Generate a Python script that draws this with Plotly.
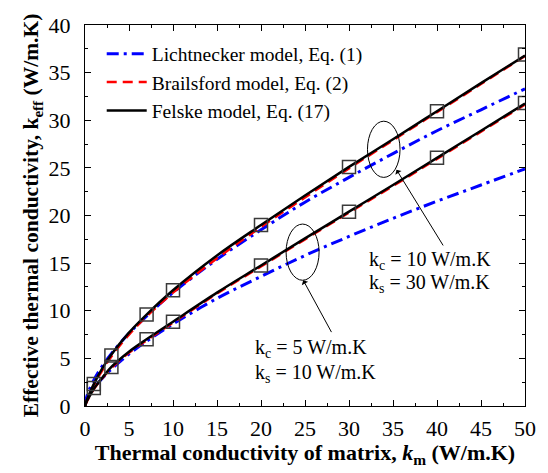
import plotly.graph_objects as go

# ---- data ----
km = [0, 0.2, 0.5, 1, 2, 3, 5, 7, 10, 15, 20, 25, 30, 35, 40, 45, 50]

# upper set: kc = 10 W/m.K, ks = 30 W/m.K
lich_hi = [0, 0.97, 1.74, 2.72, 4.25, 5.5, 7.63, 9.44, 11.9, 15.4, 18.5, 21.4, 24.0, 26.5, 28.9, 31.1, 33.3]
brai_hi = [0, 0.55, 1.2, 2.2, 3.8, 5.2, 7.5, 9.4, 11.9, 15.5, 18.8, 21.9, 24.95, 27.9, 30.85, 33.8, 36.75]
fels_hi = [0, 0.6, 1.3, 2.3, 4.0, 5.4, 7.7, 9.6, 12.15, 15.8, 19.0, 22.1, 25.1, 28.0, 30.95, 33.9, 36.8]

# lower set: kc = 5 W/m.K, ks = 10 W/m.K
lich_lo = [0, 0.65, 1.19, 1.88, 2.95, 3.87, 5.45, 6.8, 8.6, 11.3, 13.6, 15.8, 17.8, 19.7, 21.5, 23.2, 24.9]
brai_lo = [0, 0.45, 0.95, 1.75, 2.95, 4.0, 5.6, 6.9, 8.75, 11.8, 14.65, 17.5, 20.3, 23.1, 25.95, 28.8, 31.65]
fels_lo = [0, 0.5, 1.0, 1.8, 3.0, 4.1, 5.7, 7.0, 8.85, 11.9, 14.75, 17.6, 20.4, 23.2, 26.05, 28.9, 31.75]

# open-square data points
pts_x = [1, 3, 7, 10, 20, 30, 40, 50]
pts_hi = [2.3, 5.3, 9.6, 12.15, 19.0, 25.1, 30.95, 36.9]
pts_lo = [1.9, 4.1, 7.0, 8.85, 14.75, 20.4, 26.05, 31.8]

legend_names = ["Lichtnecker model, Eq. (1)", "Brailsford model, Eq. (2)", "Felske model, Eq. (17)"]

FONT = "Liberation Serif"
fig = go.Figure()

blue = dict(color="#0000ff", width=3, dash="12px,5px,3px,5px")
red = dict(color="#ff0000", width=2.5, dash="10px,6px")
black = dict(color="#000000", width=2.5)

for i, ys in enumerate([lich_hi, lich_lo]):
    fig.add_trace(go.Scatter(x=km, y=ys, mode="lines", line=blue, line_shape="spline",
                             name=legend_names[0], showlegend=(i == 0), legendrank=1))
for i, ys in enumerate([brai_hi, brai_lo]):
    fig.add_trace(go.Scatter(x=km, y=ys, mode="lines", line=red, line_shape="spline",
                             name=legend_names[1], showlegend=(i == 0), legendrank=2))
for i, ys in enumerate([fels_hi, fels_lo]):
    fig.add_trace(go.Scatter(x=km, y=ys, mode="lines", line=black, line_shape="spline",
                             name=legend_names[2], showlegend=(i == 0), legendrank=3))
for ys in [pts_hi, pts_lo]:
    fig.add_trace(go.Scatter(x=pts_x, y=ys, mode="markers", showlegend=False,
                             marker=dict(symbol="square-open", size=13, color="#3a3a3a",
                                         line=dict(width=1.5, color="#3a3a3a"))))

# ellipses
fig.add_shape(type="circle", xref="x", yref="y", x0=32.1, x1=35.8, y0=24.0, y1=29.9,
              line=dict(color="black", width=1))
fig.add_shape(type="circle", xref="x", yref="y", x0=22.85, x1=26.6, y0=13.2, y1=19.1,
              line=dict(color="black", width=1))

# arrows
for (hx, hy, tx, ty) in [(35.4, 24.8, 40.8, 16.7), (24.8, 13.2, 28.1, 7.6)]:
    fig.add_annotation(x=hx, y=hy, ax=tx, ay=ty, xref="x", yref="y", axref="x", ayref="y",
                       showarrow=True, arrowhead=1, arrowsize=1.2, arrowwidth=1,
                       arrowcolor="black", text="")

labels = [(32.0, 15.3, "k<sub>c</sub> = 10 W/m.K"), (32.0, 12.85, "k<sub>s</sub> = 30 W/m.K"),
          (19.1, 6.06, "k<sub>c</sub> = 5 W/m.K"), (19.1, 3.45, "k<sub>s</sub> = 10 W/m.K")]
for x, y, t in labels:
    fig.add_annotation(x=x, y=y, xref="x", yref="y", text=t, showarrow=False,
                       xanchor="left", yanchor="middle", font=dict(size=20))

axis_common = dict(showline=True, linecolor="black", linewidth=1.2, mirror="ticks",
                   ticks="inside", ticklen=6, tickwidth=1, tickcolor="black",
                   showgrid=False, zeroline=False,
                   minor=dict(ticks="inside", ticklen=3, tickwidth=1, tickcolor="black", dtick=2.5),
                   tickfont=dict(size=22))

fig.update_xaxes(range=[0, 50], dtick=5, **axis_common, ticklabelstandoff=2,
                 title=dict(text="<b>Thermal conductivity of matrix, <i>k</i><sub>m</sub> (W/m.K)</b>",
                            font=dict(size=22), standoff=5))
fig.update_yaxes(range=[0, 40], dtick=5, **axis_common, ticklabelstandoff=9,
                 title=dict(text="<b>Effective thermal conductivity, k<sub>eff</sub> (W/m.K)</b>",
                            font=dict(size=21.5), standoff=3))

fig.update_layout(
    width=548, height=473,
    font=dict(family=FONT, color="black", size=18),
    margin=dict(l=85, r=18, t=25, b=65),
    plot_bgcolor="white", paper_bgcolor="white",
    legend=dict(x=0.038, y=0.975, xanchor="left", yanchor="top", bgcolor="rgba(0,0,0,0)",
                font=dict(size=19.5), tracegroupgap=0, itemwidth=40),
)

fig.write_html("out.html")
